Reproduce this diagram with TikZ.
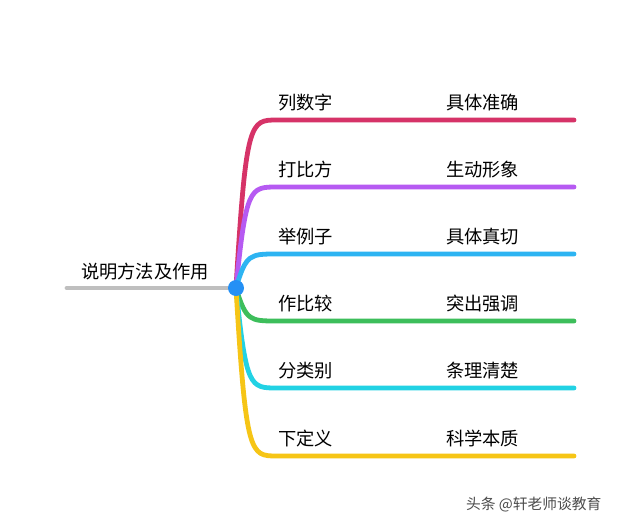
\documentclass[tikz,border=0pt]{standalone}
\usepackage{fontspec}
\setmainfont{Noto Sans CJK SC}
\usetikzlibrary{positioning}
\definecolor{cRed}{HTML}{D63368}
\definecolor{cPurple}{HTML}{B65AF2}
\definecolor{cBlue}{HTML}{2DB4F2}
\definecolor{cGreen}{HTML}{3DBE5B}
\definecolor{cCyan}{HTML}{22D2E4}
\definecolor{cYellow}{HTML}{F6C516}
\begin{document}
\begin{tikzpicture}[x=0.05cm, y=-0.05cm,
	branch/.style={line width=0.24cm, line cap=round},
	lbl/.style={font=\fontsize{26}{30}\selectfont, anchor=south west, inner sep=0pt},
]
\useasboundingbox[fill=white] (0,0) rectangle (640,524);
\coordinate (C) at (236,288);
\coordinate (R) at (67,288);
\draw [branch, black!25] (R) -- (C);
\node [lbl] (root) at (81,280) {说明方法及作用};
\foreach \y/\col/\a/\b [count=\i] in {120/cRed/列数字/具体准确, 187/cPurple/打比方/生动形象,
	254/cBlue/举例子/具体真切, 321/cGreen/作比较/突出强调,
	388/cCyan/分类别/条理清楚, 456/cYellow/下定义/科学本质}{
	\coordinate (s\i) at (277,\y);
	\coordinate (e\i) at (574,\y);
	\draw [branch, \col] (C) .. controls (246,\y) and (250,\y) .. (s\i) -- (e\i);
	\node [lbl] (l\i) at (278,\y-9) {\a};
	\node [lbl] (r\i) at (446,\y-9) {\b};
}
\fill [cBlue!80!blue] (C) circle (8);
\node [lbl, font=\fontsize{21}{24}\selectfont, text=black!70] (mark) at (466,512) {头条 @轩老师谈教育};
\end{tikzpicture}
\end{document}
